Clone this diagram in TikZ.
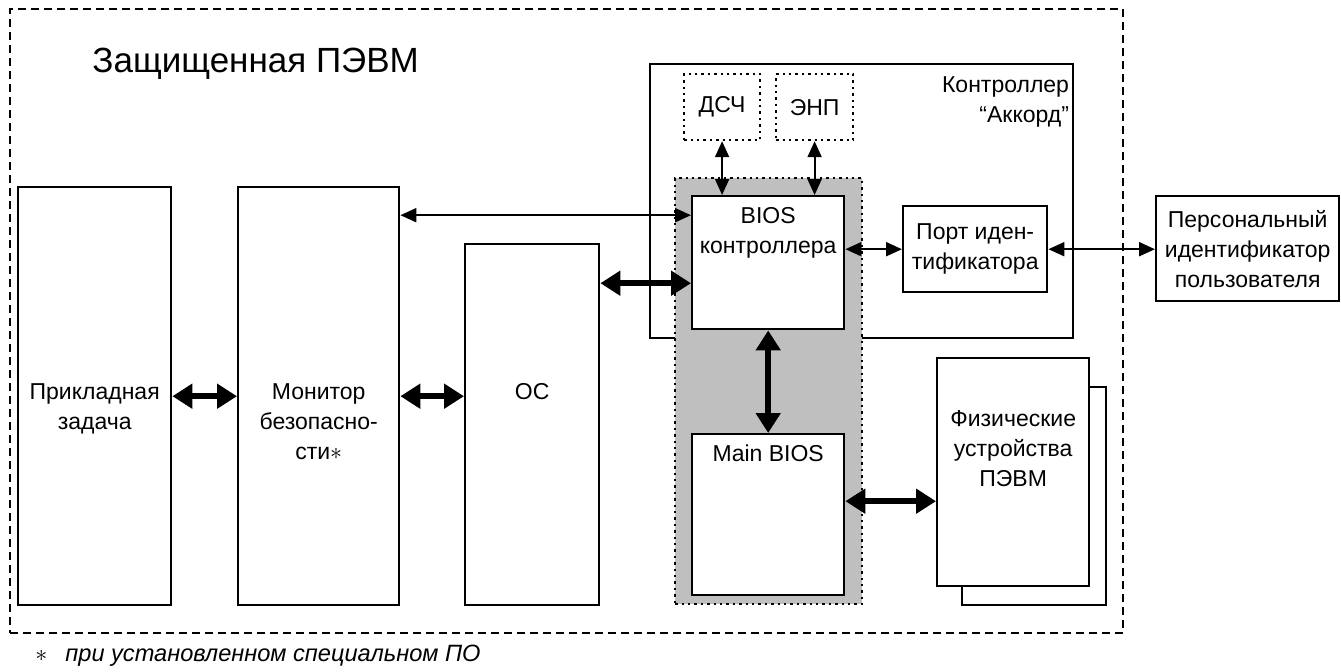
\documentclass[tikz,border=0pt]{standalone}
\usepackage{fontspec}
\setmainfont{Liberation Sans}
\usetikzlibrary{arrows.meta,calc}

\begin{document}
\begin{tikzpicture}[
x=0.5pt, y=-0.5pt,
font=\fontsize{11.5}{15}\selectfont,
box/.style={draw=black, line width=1.2pt, fill=white, inner sep=0pt, anchor=north west},
dotbox/.style={box, dotted, line width=1.1pt},
txt/.style={align=center, inner sep=0pt, anchor=north},
link/.style={{Triangle[length=8pt,width=7pt]}-{Triangle[length=8pt,width=7pt]}, line width=1pt},
bus/.style={{Triangle[length=10pt,width=12pt]}-{Triangle[length=10pt,width=12pt]}, line width=3pt},
]
\useasboundingbox (0,0) rectangle (1341,671);

\node[box, fill=none, dash pattern=on 4pt off 2.5pt, line width=1pt, minimum width=556.5pt, minimum height=312pt] (pc) at (9,8) {};
\node[anchor=base west, inner sep=0pt, font=\fontsize{17.5}{20}\selectfont] (title) at (92,72) {Защищенная ПЭВМ};

\node[box, minimum width=76.5pt, minimum height=209pt] (app) at (17,186) {};
\node[box, minimum width=80.5pt, minimum height=209pt] (mon) at (237,186) {};
\node[box, minimum width=67pt, minimum height=180.5pt] (os) at (464,243) {};

\node[box, minimum width=211.5pt, minimum height=137pt] (ctrl) at (649,63) {};
\node[anchor=north east, align=right, inner sep=0pt] (ctrlname) at ([xshift=-2.5pt,yshift=-6.5pt]ctrl.north east) {Контроллер\\“Аккорд”};
\node[dotbox, minimum width=38pt, minimum height=33pt] (dsch) at (683,73) {};
\node[dotbox, minimum width=38.5pt, minimum height=33pt] (enp) at (775,73) {};
\node at (dsch.center) {ДСЧ};
\node at (enp.center) {ЭНП};

\node[dotbox, fill=black!25, minimum width=93.5pt, minimum height=213pt] (core) at (674,177) {};
\node[box, minimum width=76pt, minimum height=66.5pt] (bios) at (691,195) {};
\node[box, minimum width=76pt, minimum height=80.5pt] (mainbios) at (691,433) {};
\node[box, align=center, minimum width=72pt, minimum height=43pt] (port) at (902,205) {Порт иден-\\тификатора};
\node[box, align=center, minimum width=91.5pt, minimum height=52.5pt] (pid) at (1155,195) {Персональный\\идентификатор\\пользователя};

\node[box, minimum width=72pt, minimum height=109pt] (phys2) at (961,386) {};
\node[box, minimum width=76pt, minimum height=114pt] (phys) at (936,357) {};

\node[txt] (apptext) at ([yshift=-98.5pt]app.north) {Прикладная\\задача};
\node[txt] (montext) at ([yshift=-98.5pt]mon.north) {Монитор\\безопасно-\\сти$\ast$};
\node[txt] (ostext) at ([yshift=-70pt]os.north) {ОС};
\node[txt] (biostext) at ([yshift=-6pt]bios.north) {BIOS\\контроллера};
\node[txt] (mainbiostext) at ([yshift=-5.5pt]mainbios.north) {Main BIOS};
\node[txt] (physText) at ([yshift=-26.5pt]phys.north) {Физические\\устройства\\ПЭВМ};

\coordinate (montap) at ([yshift=23.75pt]bios.west);
\coordinate (ostap) at ([yshift=-10.25pt]bios.west);
\coordinate (physTap) at ([yshift=6.75pt]mainbios.east);

\draw[bus] (app.east) -- (mon.west);
\draw[bus] (mon.east) -- (mon.east -| os.west);
\draw[link] (mon.east |- montap) -- (montap);
\draw[bus] (os.east |- ostap) -- (ostap);
\draw[link] (dsch.south) -- (dsch.south |- bios.north);
\draw[link] (enp.south) -- (enp.south |- bios.north);
\draw[link] (bios.east |- port.west) -- (port.west);
\draw[link] (port.east) -- (port.east -| pid.west);
\draw[bus] (bios.south) -- (mainbios.north);
\draw[bus] (physTap) -- (physTap -| phys.west);

\node[anchor=base west, inner sep=0pt, font=\fontsize{11.8}{15}\selectfont\itshape] (note) at (35,661) {$\ast$\hspace{9pt}при установленном специальном ПО};
\end{tikzpicture}
\end{document}
